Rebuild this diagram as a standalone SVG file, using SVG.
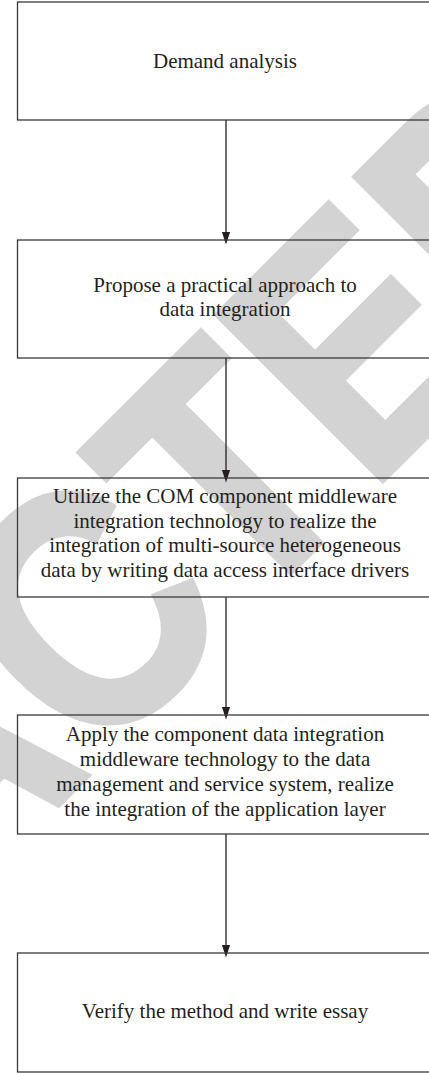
<svg xmlns="http://www.w3.org/2000/svg" width="429" height="1073" viewBox="0 0 429 1073">
  <defs>
    <marker id="arrow" markerWidth="13" markerHeight="20" refX="13" refY="6.5" orient="auto" markerUnits="userSpaceOnUse" viewBox="0 0 20 13">
      <path d="M0,0 L20,6.5 L0,13 Z" fill="#231f20"/>
    </marker>
  </defs>
  <style>
    .box { fill: none; stroke: #3a3a3a; stroke-width: 1.3; }
    .lbl { font-family: "Liberation Serif", "Times New Roman", serif; font-size: 21px; fill: #231f20; text-anchor: middle; }
    .link { stroke: #231f20; stroke-width: 1.3; fill: none; marker-end: url(#arrow); }
    .wm { font-family: "Liberation Sans", Arial, sans-serif; font-weight: bold; font-size: 340px; fill: #d3d3d3; stroke: #d3d3d3; stroke-width: 6; stroke-linejoin: miter; }
  </style>
  <rect x="0" y="0" width="429" height="1073" fill="#ffffff"/>

  <!-- background stamp -->
  <text class="wm" transform="translate(-619,1482) rotate(-45) scale(0.86,1)" x="0" y="0">RETRACTED</text>

  <g id="connectors">
    <line class="link" x1="226" y1="120" x2="226" y2="240"/>
    <line class="link" x1="226" y1="358" x2="226" y2="478"/>
    <line class="link" x1="226" y1="597" x2="226" y2="715"/>
    <line class="link" x1="226" y1="834" x2="226" y2="953"/>
  </g>

  <g id="n1">
    <rect class="box" x="17.5" y="2" width="430" height="118"/>
    <text class="lbl" x="225" y="68">Demand analysis</text>
  </g>

  <g id="n2">
    <rect class="box" x="17.5" y="240" width="430" height="118"/>
    <text class="lbl" x="225" y="292">Propose a practical approach to</text>
    <text class="lbl" x="225" y="316">data integration</text>
  </g>

  <g id="n3">
    <rect class="box" x="17.5" y="478" width="430" height="119"/>
    <text class="lbl" x="225" y="503">Utilize the COM component middleware</text>
    <text class="lbl" x="225" y="527.5">integration technology to realize the</text>
    <text class="lbl" x="225" y="552">integration of multi-source heterogeneous</text>
    <text class="lbl" x="225" y="576.5">data by writing data access interface drivers</text>
  </g>

  <g id="n4">
    <rect class="box" x="17.5" y="715" width="430" height="119"/>
    <text class="lbl" x="225" y="741">Apply the component data integration</text>
    <text class="lbl" x="225" y="766">middleware technology to the data</text>
    <text class="lbl" x="225" y="791">management and service system, realize</text>
    <text class="lbl" x="225" y="816">the integration of the application layer</text>
  </g>

  <g id="n5">
    <rect class="box" x="17.5" y="953" width="430" height="119"/>
    <text class="lbl" x="225" y="1018">Verify the method and write essay</text>
  </g>
</svg>
